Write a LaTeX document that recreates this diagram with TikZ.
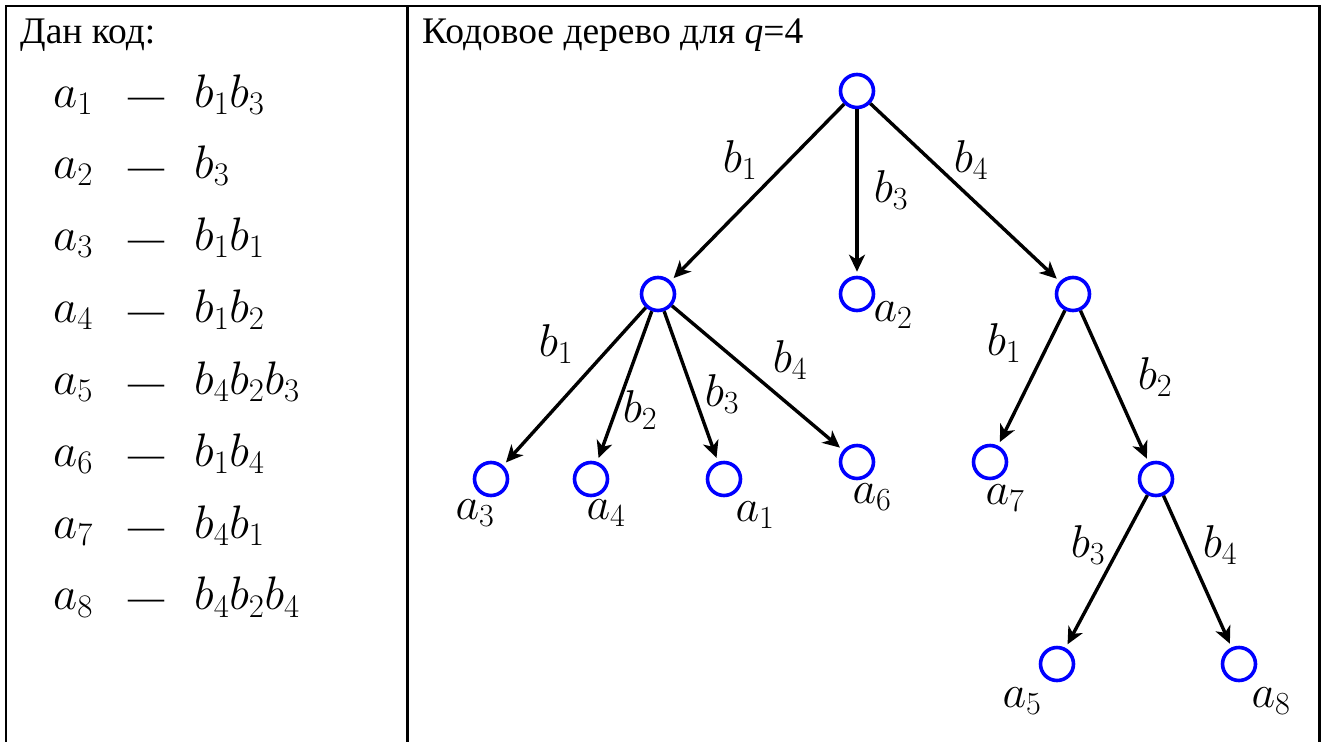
\RequirePackage{fix-cm}
\documentclass[tikz,border=0pt]{standalone}
\usepackage{fontspec}
\setmainfont{Liberation Serif}
\usetikzlibrary{arrows.meta}
\tikzset{
  vtx/.style={circle, draw=blue, line width=3.6pt, minimum size=33pt, inner sep=0pt},
  edge/.style={line width=3.4pt, -{Stealth[length=17pt,width=16pt,inset=5pt]}, shorten >=4pt},
  lbl/.style={inner sep=0pt, font=\fontsize{46}{52}\selectfont},
  rule/.style={line width=2.4pt},
  txt/.style={inner sep=0pt, anchor=base west, font=\fontsize{37.5}{44}\selectfont},
  mth/.style={inner sep=0pt, anchor=base west, font=\fontsize{47}{52}\selectfont}
}
\begin{document}
\begin{tikzpicture}[x=1pt,y=-1pt]
\useasboundingbox (0,0) rectangle (1325,742);
% table rules
\draw[rule] (5,6) -- (1320.5,6);
\draw[rule] (6,5) -- (6,742);
\draw[rule] (407.5,6) -- (407.5,742);
\draw[rule] (1319.5,5) -- (1319.5,742);
% left column
\node[txt] (t1) at (20,43) {Дан код:};
\foreach \i/\c [count=\k from 0] in {1/{b_1b_3},2/{b_3},3/{b_1b_1},4/{b_1b_2},5/{b_4b_2b_3},6/{b_1b_4},7/{b_4b_1},8/{b_4b_2b_4}}{
  \node[mth] (la\i) at (53,107+71.85*\k) {$a_{\i}$};
  \node[txt, font=\fontsize{36}{40}\selectfont] (ld\i) at (128,107+71.85*\k) {\textemdash};
  \node[mth] (lb\i) at (194,107+71.85*\k) {$\c$};
}
% right column title
\node[txt] (t2) at (422,43) {Кодовое дерево для \textit{q}=4};
% tree nodes
\node[vtx] (r) at (857,91) {};
\node[vtx] (L) at (658,294) {};
\node[vtx] (n2) at (857,294) {};
\node[vtx] (R) at (1073,294) {};
\node[vtx] (n3) at (491,479) {};
\node[vtx] (n4) at (591,479) {};
\node[vtx] (n1) at (724,479) {};
\node[vtx] (n6) at (857,462) {};
\node[vtx] (n7) at (990,462) {};
\node[vtx] (M) at (1156,479) {};
\node[vtx] (n5) at (1057,664) {};
\node[vtx] (n8) at (1239,664) {};
% edges
\draw[edge] (r) -- (L);
\draw[edge] (r) -- (n2);
\draw[edge] (r) -- (R);
\draw[edge] (L) -- (n3);
\draw[edge] (L) -- (n4);
\draw[edge] (L) -- (n1);
\draw[edge] (L) -- (n6);
\draw[edge] (R) -- (n7);
\draw[edge] (R) -- (M);
\draw[edge] (M) -- (n5);
\draw[edge] (M) -- (n8);
% edge labels
\node[lbl] (e1) at (740,160) {$b_1$};
\node[lbl] (e2) at (891,190) {$b_3$};
\node[lbl] (e3) at (971,160) {$b_4$};
\node[lbl] (e4) at (556,344) {$b_1$};
\node[lbl] (e5) at (640,410) {$b_2$};
\node[lbl] (e6) at (722,394) {$b_3$};
\node[lbl] (e7) at (790,360) {$b_4$};
\node[lbl] (e8) at (1004,343) {$b_1$};
\node[lbl] (e9) at (1155,377) {$b_2$};
\node[lbl] (e10) at (1088,545) {$b_3$};
\node[lbl] (e11) at (1220,545) {$b_4$};
% leaf labels
\node[lbl] (s2) at (893,315) {$a_2$};
\node[lbl] (s3) at (475,513) {$a_3$};
\node[lbl] (s4) at (606,513) {$a_4$};
\node[lbl] (s1) at (755,515) {$a_1$};
\node[lbl] (s6) at (872,497) {$a_6$};
\node[lbl] (s7) at (1005,498) {$a_7$};
\node[lbl] (s5) at (1022,701) {$a_5$};
\node[lbl] (s8) at (1271,701) {$a_8$};
\end{tikzpicture}
\end{document}
